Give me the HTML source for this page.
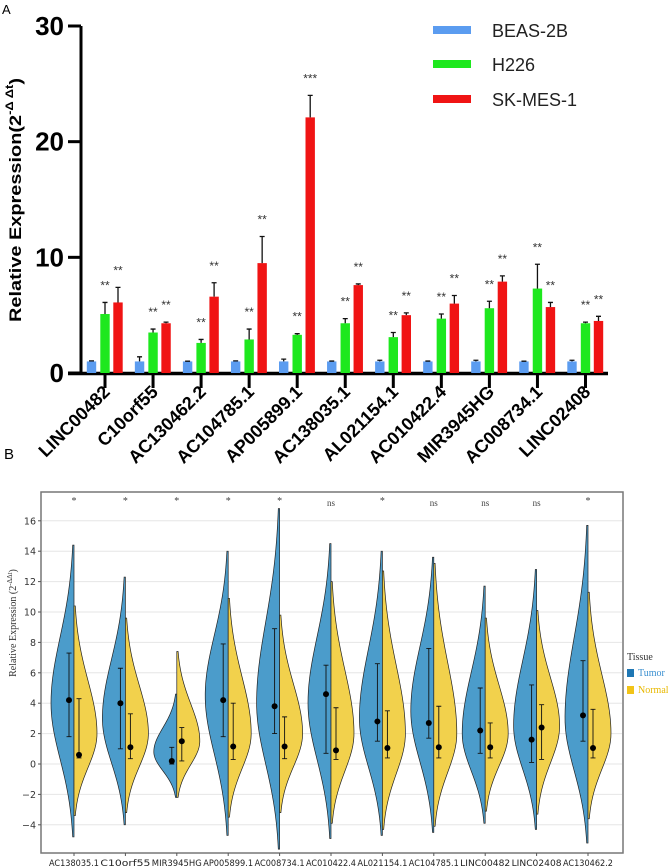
<!DOCTYPE html>
<html><head><meta charset="utf-8"><style>
body{margin:0;background:#fff}
svg{display:block}
</style></head><body>
<svg id="fig" width="668" height="868" viewBox="0 0 668 868" xmlns="http://www.w3.org/2000/svg">
<text x="2" y="14" font-family="Liberation Sans, sans-serif" font-size="13">A</text>
<g id="pa"></g>
<text x="4" y="459" font-family="Liberation Sans, sans-serif" font-size="15">B</text>
<g id="pb"></g>
</svg>
<script>
// ---------- Panel A data ----------
const catsA = ["LINC00482","C10orf55","AC130462.2","AC104785.1","AP005899.1","AC138035.1","AL021154.1","AC010422.4","MIR3945HG","AC008734.1","LINC02408"];
const beasVals = [1,1,1,1,1,1,1,1,1,1,1];
const beasErr = [1.05,1.4,1.02,1.05,1.2,1.03,1.1,1.03,1.1,1.02,1.1];
const h226Vals = [5.1,3.5,2.6,2.9,3.3,4.3,3.1,4.7,5.6,7.3,4.3];
const h226Err = [6.1,3.8,2.9,3.8,3.4,4.7,3.5,5.1,6.2,9.4,4.4];
const skVals = [6.1,4.3,6.6,9.5,22.1,7.6,5.0,6.0,7.9,5.7,4.5];
const skErr = [7.4,4.4,7.8,11.8,24.0,7.7,5.2,6.7,8.4,6.1,4.9];
const h226Stars = ["**","**","**","**","**","**","**","**","**","**","**"];
const skStars = ["**","**","**","**","***","**","**","**","**","**","**"];
const yTicksA = [0,10,20,30];

const NS="http://www.w3.org/2000/svg";
function mk(parent,tag,attrs,text){const e=document.createElementNS(NS,tag);for(const k in attrs)e.setAttribute(k,attrs[k]);if(text!==undefined)e.textContent=text;parent.appendChild(e);return e;}

(function(){
  const g=document.getElementById('pa');
  const y=v=>373-v*(373-26)/30;
  const x=i=>105+i*48.05;
  let e=mk(g,'line',{x1:81,y1:y(0),x2:81,y2:y(30),stroke:'#000','stroke-width':3});
   
  e=mk(g,'line',{x1:68,y1:y(0)+0.5,x2:608,y2:y(0)+0.5,stroke:'#000','stroke-width':3.5});
   
  yTicksA.forEach(t=>{
    let l=mk(g,'line',{x1:68,y1:y(t),x2:81,y2:y(t),stroke:'#000','stroke-width':3});
     
    let tx=mk(g,'text',{x:64,y:y(t)+9,'text-anchor':'end','font-family':'Liberation Sans, sans-serif','font-weight':'bold','font-size':26},String(t));
     
  });
  let yt=mk(g,'text',{transform:'translate(21,200) rotate(-90)','text-anchor':'middle','font-family':'Liberation Sans, sans-serif','font-weight':'bold','font-size':17,textLength:244,lengthAdjust:'spacingAndGlyphs'});
   
  yt.innerHTML='Relative Expression(2<tspan font-size="11" dy="-8">-Δ Δt</tspan><tspan dy="8">)</tspan>';
  const series=[[beasVals,beasErr,'#5b9cf0',-13.5,null],[h226Vals,h226Err,'#1ee81e',0,h226Stars],[skVals,skErr,'#f01414',13,skStars]];
  catsA.forEach((c,i)=>{
    let tk=mk(g,'line',{x1:x(i),y1:y(0),x2:x(i),y2:388,stroke:'#000','stroke-width':3});
     
    let lb=mk(g,'text',{transform:`translate(${x(i)+6},393) rotate(-45)`,'text-anchor':'end','font-family':'Liberation Sans, sans-serif','font-weight':'bold','font-size':18},c);
     
    series.forEach(([vals,errs,col,off,stars])=>{
      const cx=x(i)+off;
      let r=mk(g,'rect',{x:cx-4.7,y:y(vals[i]),width:9.4,height:y(0)-y(vals[i]),fill:col});
       
      let eb=mk(g,'path',{d:`M${cx},${y(vals[i])}V${y(errs[i])}M${cx-2.5},${y(errs[i])}H${cx+2.5}`,stroke:'#111','stroke-width':1.3,fill:'none'});
       
      if(stars){
        let s=mk(g,'text',{x:cx,y:y(errs[i])-13,'text-anchor':'middle','font-family':'Liberation Sans, sans-serif','font-size':12,fill:'#333'},stars[i]);
         
      }
    });
  });
  const leg=[['BEAS-2B','#5b9cf0',30],['H226','#1ee81e',64],['SK-MES-1','#f01414',99]];
  leg.forEach(([n,c,yy])=>{
    let r=mk(g,'rect',{x:433,y:yy-4,width:38,height:8,fill:c});
     
    let t=mk(g,'text',{x:492,y:yy+7,'font-family':'Liberation Sans, sans-serif','font-size':18,fill:'#222'},n);
     
  });
})();

// ---------- Panel B data ----------
const catsB = ["AC138035.1","C10orf55","MIR3945HG","AP005899.1","AC008734.1","AC010422.4","AL021154.1","AC104785.1","LINC00482","LINC02408","AC130462.2"];
const sigB = ["*","*","*","*","*","ns","*","ns","ns","ns","*"];
const tumorMax = [14.4,12.3,4.6,14.0,16.8,14.5,14.0,13.6,11.7,12.8,15.7];
const tumorMin = [-4.8,-4.0,-2.2,-4.7,-5.6,-4.9,-4.7,-4.5,-3.9,-4.3,-5.2];
const tumorPeak = [4,3,0.8,4.5,4,4,3,3.5,2,2.5,3];
const normalMax = [10.4,9.6,7.4,10.9,9.8,12.0,12.7,13.2,9.6,10.1,11.3];
const normalMin = [-3.4,-3.2,-2.2,-3.5,-3.2,-3.9,-4.3,-4.1,-3.1,-3.3,-3.6];
const normalPeak = [2,2,1.5,2,2,2,2,2,2,2.5,2];
const tumorMean = [4.2,4.0,0.2,4.2,3.8,4.6,2.8,2.7,2.2,1.6,3.2];
const tumorLo = [1.8,1.0,0.0,1.8,2.0,0.7,1.5,1.7,0.7,0.1,1.5];
const tumorHi = [7.3,6.3,1.1,7.9,8.9,6.5,6.6,7.6,5.0,5.2,6.8];
const normalMean = [0.6,1.1,1.5,1.15,1.15,0.9,1.05,1.1,1.1,2.4,1.05];
const normalLo = [0.4,0.35,0.2,0.3,0.35,0.3,0.4,0.4,0.4,0.3,0.4];
const normalHi = [4.3,3.3,2.4,4.0,3.1,3.7,3.5,3.8,2.7,3.9,3.6];
const yTicksB = [-4,-2,0,2,4,6,8,10,12,14,16];

(function(){
  const g=document.getElementById('pb');
  const y=v=>764-v*15.2;
  const x=i=>74+i*51.4;
  let bg=mk(g,'rect',{x:41,y:492,width:582,height:361,fill:'#fff',stroke:'#777','stroke-width':1.5});
   
  yTicksB.forEach(t=>{
    let gl=mk(g,'line',{x1:42,y1:y(t),x2:622,y2:y(t),stroke:'#e6e6e6','stroke-width':1});
     
    let tk=mk(g,'line',{x1:38,y1:y(t),x2:41,y2:y(t),stroke:'#555'});
     
    let tl=mk(g,'text',{x:36,y:y(t)+3.5,'text-anchor':'end','font-family':'DejaVu Sans, sans-serif','font-size':9.5,fill:'#333'},String(t).replace('-','−'));
     
  });
  let yt=mk(g,'text',{transform:'translate(16,623) rotate(-90)','text-anchor':'middle','font-family':'Liberation Serif, serif','font-size':10,fill:'#333'});
   
  yt.innerHTML='Relative Expression (2<tspan font-size="7" dy="-4">-ΔΔt</tspan><tspan dy="4">)</tspan>';
  function half(i,mx,mn,pk,side){
    const W=23, n=50, cx=x(i); let pts=[];
    for(let k=0;k<=n;k++){
      const v=mn+(mx-mn)*k/n;
      const sig=v>pk?(mx-pk)/2.4:(pk-mn)/2.4;
      let w=W*Math.exp(-0.5*Math.pow((v-pk)/sig,2));
      pts.push(`${cx+side*w},${y(v)}`);
    }
    return `M${cx},${y(mn)}L${pts.join('L')}L${cx},${y(mx)}Z`;
  }
  catsB.forEach((c,i)=>{
    let t=mk(g,'path',{d:half(i,tumorMax[i],tumorMin[i],tumorPeak[i],-1),fill:'#4b9ccb',stroke:'#222','stroke-width':0.7});
     
    let nn=mk(g,'path',{d:half(i,normalMax[i],normalMin[i],normalPeak[i],1),fill:'#f2d14c',stroke:'#222','stroke-width':0.7});
     
    [[tumorMean,tumorLo,tumorHi,-5],[normalMean,normalLo,normalHi,5]].forEach(([m,lo,hi,off])=>{
      const cx=x(i)+off;
      let eb=mk(g,'path',{d:`M${cx},${y(lo[i])}V${y(hi[i])}M${cx-2.5},${y(lo[i])}H${cx+2.5}M${cx-2.5},${y(hi[i])}H${cx+2.5}`,stroke:'#111','stroke-width':0.9,fill:'none'});
       
      let d=mk(g,'circle',{cx:cx,cy:y(m[i]),r:3,fill:'#000'});
       
    });
    let s=mk(g,'text',{x:x(i),y:sigB[i]==='ns'?506:504,'text-anchor':'middle','font-family':'Liberation Serif, serif','font-size':sigB[i]==='ns'?9:10,fill:'#444'},sigB[i]);
     
    let tk=mk(g,'line',{x1:x(i),y1:853,x2:x(i),y2:856,stroke:'#555'});
     
    let lb=mk(g,'text',{x:x(i),y:866,'text-anchor':'middle','font-family':'DejaVu Sans, sans-serif','font-size':9,fill:'#222',textLength:50,lengthAdjust:'spacingAndGlyphs'},c);
     
  });
  let lt=mk(g,'text',{x:627,y:660,'font-family':'Liberation Serif, serif','font-size':10,fill:'#333'},'Tissue');
   
  [['Tumor','#1f77b4',676],['Normal','#f2c418',693]].forEach(([n,c,yy])=>{
    let r=mk(g,'rect',{x:627,y:yy-7,width:7,height:8,fill:c});
     
    let t=mk(g,'text',{x:638,y:yy,'font-family':'Liberation Serif, serif','font-size':10,fill:n==='Tumor'?'#3a8fd0':'#e8b800'},n);
     
  });
})();
</script>
</body></html>
